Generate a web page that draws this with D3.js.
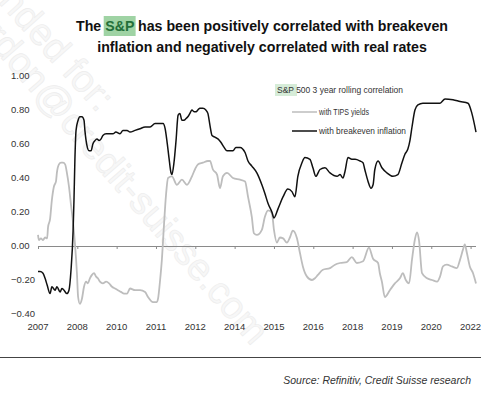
<!DOCTYPE html>
<html>
<head>
<meta charset="utf-8">
<script src="https://cdn.jsdelivr.net/npm/d3@7"></script>
<style>
  body { margin: 0; background: #fff; }
  svg { display: block; }
  text { font-family: "Liberation Sans", Arial, sans-serif; }
</style>
</head>
<body>
<div id="chart"></div>
<script>
// S&P 500 3 year rolling correlation (decimal years)
var tipsYears = [2007.00, 2007.03, 2007.10, 2007.17, 2007.24, 2007.31, 2007.34, 2007.41, 2007.47, 2007.54,
    2007.61, 2007.64, 2007.71, 2007.78, 2007.85, 2007.92, 2007.98, 2008.05, 2008.12, 2008.19,
    2008.25, 2008.32, 2008.36, 2008.42, 2008.49, 2008.56, 2008.63, 2008.69, 2008.76, 2008.83,
    2008.90, 2008.97, 2009.03, 2009.10, 2009.20, 2009.31, 2009.41, 2009.51, 2009.61, 2009.71,
    2009.81, 2009.92, 2010.02, 2010.12, 2010.29, 2010.46, 2010.63, 2010.73, 2010.90, 2011.03,
    2011.07, 2011.14, 2011.20, 2011.27, 2011.34, 2011.41, 2011.54, 2011.71, 2011.88, 2012.05,
    2012.22, 2012.32, 2012.42, 2012.59, 2012.76, 2012.83, 2012.93, 2013.07, 2013.17, 2013.27,
    2013.41, 2013.61, 2013.85, 2014.02, 2014.12, 2014.25, 2014.32, 2014.42, 2014.59, 2014.69,
    2014.80, 2014.93, 2015.00, 2015.10, 2015.20, 2015.31, 2015.44, 2015.54, 2015.64, 2015.78,
    2015.88, 2015.98, 2016.12, 2016.29, 2016.39, 2016.49, 2016.66, 2016.90, 2017.07, 2017.24,
    2017.47, 2017.64, 2017.81, 2018.02, 2018.22, 2018.36, 2018.53, 2018.59, 2018.66, 2018.76,
    2018.93, 2019.10, 2019.27, 2019.37, 2019.47, 2019.58, 2019.68, 2019.78, 2019.85, 2019.92,
    2020.02, 2020.19, 2020.36, 2020.53, 2020.63, 2020.73, 2020.86, 2021.03, 2021.20, 2021.31,
    2021.41, 2021.47, 2021.54, 2021.64, 2021.75, 2021.85];
var tipsValues = [0.065, 0.035, 0.045, 0.035, 0.05, 0.045, 0.11, 0.16, 0.27, 0.35,
    0.38, 0.43, 0.48, 0.49, 0.49, 0.48, 0.43, 0.35, 0.24, 0.135,
    0.02, -0.16, -0.30, -0.34, -0.31, -0.24, -0.21, -0.22, -0.19, -0.17,
    -0.16, -0.18, -0.19, -0.21, -0.22, -0.21, -0.22, -0.24, -0.25, -0.26,
    -0.27, -0.28, -0.28, -0.25, -0.26, -0.26, -0.27, -0.30, -0.33, -0.33,
    -0.31, -0.20, -0.08, 0.12, 0.30, 0.40, 0.41, 0.36, 0.39, 0.36,
    0.41, 0.45, 0.48, 0.49, 0.50, 0.50, 0.45, 0.42, 0.34, 0.41,
    0.43, 0.40, 0.39, 0.38, 0.29, 0.17, 0.075, 0.065, 0.095, 0.17,
    0.21, 0.195, 0.095, 0.02, 0.05, 0.045, 0.02, 0.05, 0.09, 0.045,
    -0.04, -0.12, -0.18, -0.20, -0.19, -0.17, -0.14, -0.13, -0.11, -0.10,
    -0.095, -0.065, -0.10, -0.09, -0.01, -0.075, -0.10, -0.16, -0.21, -0.30,
    -0.26, -0.22, -0.19, -0.16, -0.20, -0.22, -0.08, 0.04, 0.08, 0.03,
    -0.16, -0.19, -0.20, -0.21, -0.18, -0.12, -0.11, -0.12, -0.13, -0.08,
    -0.02, 0.01, -0.04, -0.12, -0.16, -0.22];

var beiYears = [2007.00, 2007.07, 2007.17, 2007.24, 2007.31, 2007.41, 2007.47, 2007.58, 2007.64, 2007.75,
    2007.81, 2007.88, 2007.98, 2008.05, 2008.12, 2008.19, 2008.22, 2008.25, 2008.29, 2008.36,
    2008.42, 2008.49, 2008.56, 2008.59, 2008.66, 2008.73, 2008.80, 2008.86, 2008.93, 2009.00,
    2009.07, 2009.14, 2009.20, 2009.31, 2009.44, 2009.54, 2009.64, 2009.78, 2009.88, 2010.02,
    2010.12, 2010.29, 2010.46, 2010.63, 2010.80, 2010.97, 2011.14, 2011.24, 2011.31, 2011.37,
    2011.44, 2011.51, 2011.54, 2011.61, 2011.68, 2011.75, 2011.81, 2011.88, 2011.95, 2012.02,
    2012.08, 2012.15, 2012.22, 2012.29, 2012.36, 2012.42, 2012.49, 2012.59, 2012.69, 2012.76,
    2012.83, 2012.90, 2013.00, 2013.10, 2013.20, 2013.31, 2013.41, 2013.51, 2013.61, 2013.71,
    2013.85, 2014.02, 2014.12, 2014.25, 2014.42, 2014.59, 2014.69, 2014.80, 2014.93, 2015.00,
    2015.14, 2015.31, 2015.47, 2015.61, 2015.71, 2015.81, 2015.95, 2016.05, 2016.22, 2016.32,
    2016.42, 2016.56, 2016.73, 2016.90, 2017.14, 2017.24, 2017.34, 2017.41, 2017.51, 2017.64,
    2017.75, 2017.92, 2018.02, 2018.08, 2018.19, 2018.29, 2018.36, 2018.42, 2018.53, 2018.66,
    2018.83, 2019.03, 2019.20, 2019.34, 2019.44, 2019.54, 2019.61, 2019.68, 2019.78, 2019.88,
    2020.05, 2020.39, 2020.63, 2020.80, 2021.07, 2021.31, 2021.58, 2021.71, 2021.85];
var beiValues = [-0.15, -0.15, -0.16, -0.19, -0.23, -0.28, -0.24, -0.26, -0.24, -0.27,
    -0.25, -0.26, -0.28, -0.26, -0.14, 0.09, 0.27, 0.50, 0.68, 0.74,
    0.76, 0.76, 0.74, 0.68, 0.59, 0.56, 0.56, 0.60, 0.62, 0.63,
    0.62, 0.63, 0.65, 0.66, 0.66, 0.66, 0.67, 0.66, 0.68, 0.68,
    0.67, 0.68, 0.69, 0.70, 0.70, 0.72, 0.72, 0.72, 0.69, 0.62,
    0.52, 0.43, 0.42, 0.49, 0.62, 0.77, 0.78, 0.74, 0.74, 0.75,
    0.76, 0.78, 0.80, 0.79, 0.79, 0.80, 0.81, 0.81, 0.80, 0.78,
    0.71, 0.65, 0.64, 0.63, 0.61, 0.58, 0.56, 0.56, 0.56, 0.58,
    0.58, 0.55, 0.50, 0.47, 0.43, 0.36, 0.31, 0.25, 0.20, 0.165,
    0.22, 0.29, 0.335, 0.32, 0.29, 0.41, 0.49, 0.52, 0.51, 0.46,
    0.41, 0.45, 0.46, 0.43, 0.41, 0.42, 0.40, 0.44, 0.52, 0.51,
    0.51, 0.50, 0.49, 0.45, 0.38, 0.34, 0.36, 0.45, 0.50, 0.46,
    0.43, 0.41, 0.42, 0.49, 0.54, 0.57, 0.62, 0.70, 0.80, 0.83,
    0.84, 0.84, 0.84, 0.865, 0.86, 0.85, 0.84, 0.78, 0.67];

var yTicks = [1.0, 0.8, 0.6, 0.4, 0.2, 0.0, -0.2, -0.4];
var xTickLabels = ["2007", "2008", "2010", "2011", "2012", "2014", "2015", "2016", "2018", "2019", "2020", "2022"];
// ticks come every 16 months starting Jan 2007
var xTickValues = xTickLabels.map(function(d, i) { return 2007 + i * 4 / 3; });

var width = 481, height = 397;

var svg = d3.select("#chart")
    .append("svg")
    .attr("width", width)
    .attr("height", height);

// faint diagonal watermark
var wm = svg.append("g")
    .attr("fill", "#f7f7f7")
    .attr("stroke", "#ececec")
    .attr("stroke-width", 0.6)
    .attr("font-size", 38);
wm.append("text")
    .attr("transform", "translate(-45,-45) rotate(48)")
    .text("Intended for:");
wm.append("text")
    .attr("transform", "translate(-45,5) rotate(49)")
    .text("gordon@credit-suisse.com");

var x = d3.scaleLinear()
    .domain([2007, 2021.85])
    .range([38, 476]);

var y = d3.scaleLinear()
    .domain([-0.4, 1])
    .range([314, 76]);

// title
var title = svg.append("g")
    .attr("font-weight", "bold")
    .attr("font-size", 14.2)
    .attr("fill", "#111");
var t1 = title.append("text")
    .attr("x", 262)
    .attr("y", 31)
    .attr("text-anchor", "middle");
t1.append("tspan").text("The ");
t1.append("tspan").attr("class", "hl").attr("fill", "#24703a").text("S&P");
t1.append("tspan").text(" has been positively correlated with breakeven");
title.append("text")
    .attr("x", 262)
    .attr("y", 52)
    .attr("text-anchor", "middle")
    .text("inflation and negatively correlated with real rates");

// green box behind "S&P" in the title
var hl = t1.select(".hl").node();
var ext = hl.getExtentOfChar(0);
var ext2 = hl.getExtentOfChar(2);
title.insert("rect", "text")
    .attr("x", ext.x - 1.5)
    .attr("y", 16)
    .attr("width", ext2.x + ext2.width - ext.x + 3)
    .attr("height", 20)
    .attr("fill", "#9fd3a4");

// y axis labels
svg.append("g")
    .selectAll("text")
    .data(yTicks)
    .enter()
    .append("text")
    .attr("x", 11)
    .attr("y", function(d) { return y(d); })
    .attr("dy", "0.35em")
    .attr("font-size", 9.5)
    .attr("fill", "#333")
    .text(function(d) { return d3.format(".2f")(d); });

// zero line with ticks
var xAxis = d3.axisBottom(x)
    .tickValues(xTickValues)
    .tickSize(3)
    .tickFormat("");
var ax = svg.append("g")
    .attr("transform", "translate(0," + y(0) + ")")
    .call(xAxis);
ax.select(".domain").attr("stroke", "#8a8a8a").attr("d", "M38,0.5H476");
ax.selectAll(".tick line").attr("stroke", "#8a8a8a");

// x labels along the bottom
svg.append("g")
    .selectAll("text")
    .data(xTickValues)
    .enter()
    .append("text")
    .attr("x", function(d) { return x(d); })
    .attr("y", 327)
    .attr("dy", "0.35em")
    .attr("text-anchor", "middle")
    .attr("font-size", 9.5)
    .attr("fill", "#333")
    .text(function(d, i) { return xTickLabels[i]; });

var line = d3.line()
    .x(function(d) { return x(d[0]); })
    .y(function(d) { return y(d[1]); })
    .curve(d3.curveMonotoneX);

svg.append("path")
    .datum(d3.zip(tipsYears, tipsValues))
    .attr("fill", "none")
    .attr("stroke", "#bdbdbd")
    .attr("stroke-width", 1.8)
    .attr("d", line);

svg.append("path")
    .datum(d3.zip(beiYears, beiValues))
    .attr("fill", "none")
    .attr("stroke", "#111")
    .attr("stroke-width", 1.5)
    .attr("d", line);

// legend (narrow type, squeezed to the reference widths)
var legend = svg.append("g")
    .attr("font-size", 9)
    .attr("fill", "#333");
legend.append("rect")
    .attr("x", 275)
    .attr("y", 84)
    .attr("width", 22)
    .attr("height", 12)
    .attr("fill", "#d6ecd8");
legend.append("text")
    .attr("x", 277)
    .attr("y", 93)
    .attr("textLength", 126)
    .attr("lengthAdjust", "spacingAndGlyphs")
    .text("S&P 500 3 year rolling correlation");

var series = [
    {name: "with TIPS yields", color: "#bdbdbd", y: 112, len: 50},
    {name: "with breakeven inflation", color: "#111", y: 131, len: 87}
];
series.forEach(function(s) {
    legend.append("line")
        .attr("x1", 292)
        .attr("x2", 317)
        .attr("y1", s.y)
        .attr("y2", s.y)
        .attr("stroke", s.color)
        .attr("stroke-width", 1.5);
    legend.append("text")
        .attr("x", 319)
        .attr("y", s.y)
        .attr("dy", "0.35em")
        .attr("textLength", s.len)
        .attr("lengthAdjust", "spacingAndGlyphs")
        .text(s.name);
});

// footer
svg.append("line")
    .attr("x1", 0)
    .attr("x2", width)
    .attr("y1", 357.5)
    .attr("y2", 357.5)
    .attr("stroke", "#444")
    .attr("stroke-width", 1);

svg.append("text")
    .attr("x", 471)
    .attr("y", 380)
    .attr("dy", "0.35em")
    .attr("text-anchor", "end")
    .attr("font-size", 10.5)
    .attr("font-style", "italic")
    .attr("fill", "#333")
    .text("Source: Refinitiv, Credit Suisse research");
</script>
</body>
</html>
